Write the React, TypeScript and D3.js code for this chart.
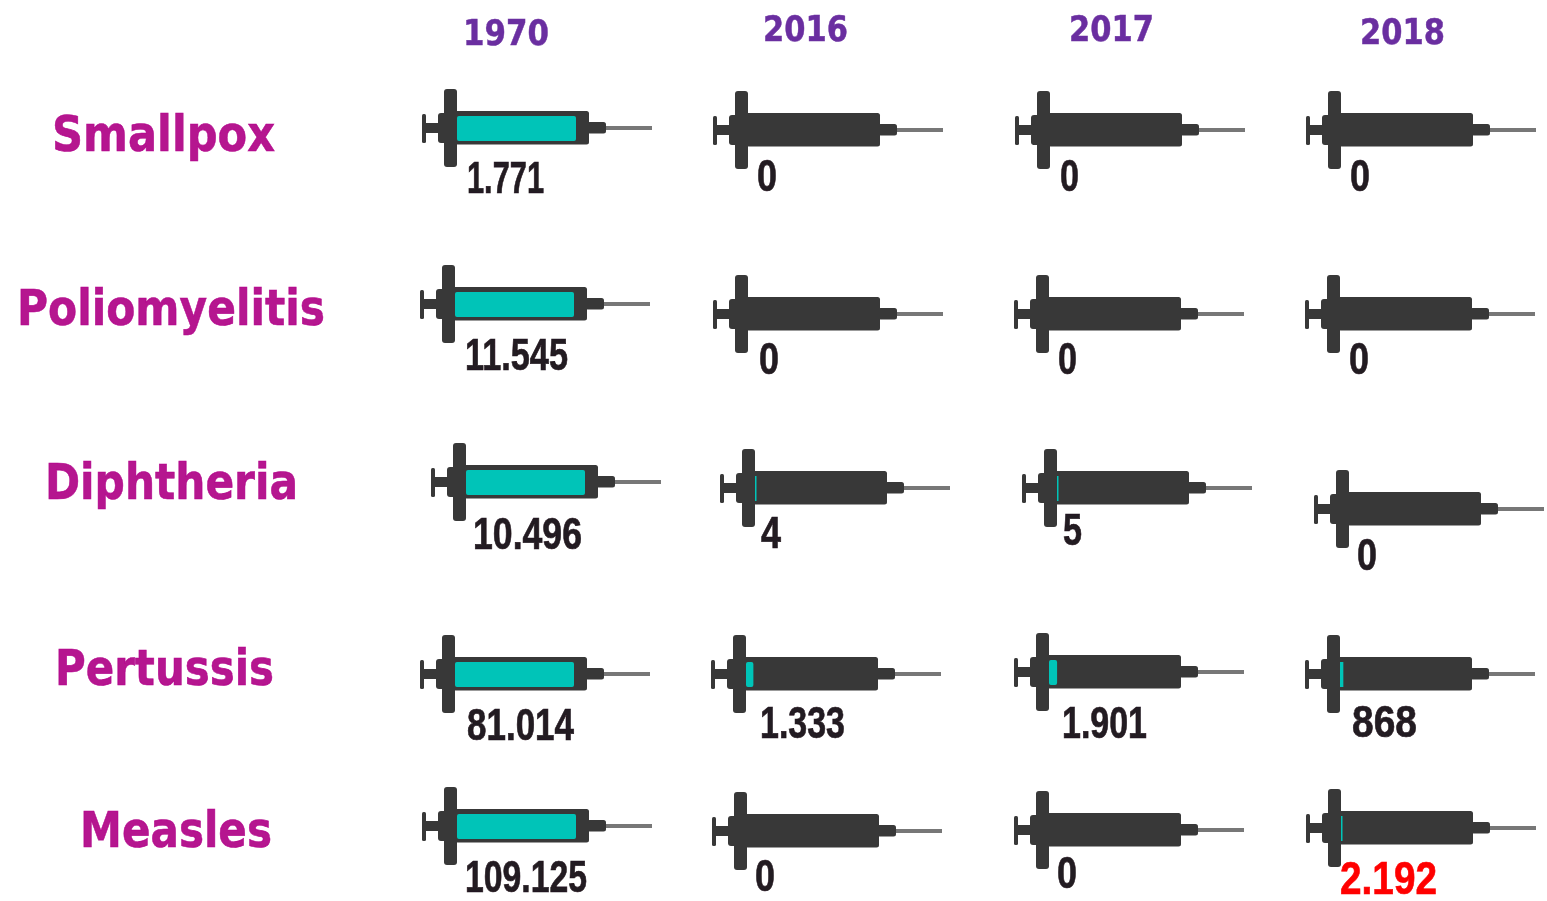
import React from "react";
import * as d3 from "d3";

const diseases = ["Smallpox", "Poliomyelitis", "Diphtheria", "Pertussis", "Measles"];
const years = ["1970", "2016", "2017", "2018"];
const values1970 = ["1.771", "11.545", "10.496", "81.014", "109.125"];
const values2016 = ["0", "0", "4", "1.333", "0"];
const values2017 = ["0", "0", "5", "1.901", "0"];
const values2018 = ["0", "0", "0", "868", "2.192"];
const fill1970 = [1, 1, 1, 1, 1];
const fill2016 = [0, 0, 0.012, 0.062, 0];
const fill2017 = [0, 0, 0.012, 0.068, 0];
const fill2018 = [0, 0, 0, 0.028, 0.012];
const valueCols = [values1970, values2016, values2017, values2018];
const fillCols = [fill1970, fill2016, fill2017, fill2018];

// Hand-placed layout of the infographic (syringe left edge / needle axis per cell)
const syringeX = [[422, 713, 1015, 1306], [420, 713, 1014, 1305], [431, 720, 1022, 1314], [420, 711, 1014, 1305], [422, 712, 1014, 1306]];
const syringeY = [[128, 130, 130, 130], [304, 314, 314, 314], [482, 488, 488, 509], [674, 674, 672, 674], [826, 831, 830, 828]];
const labelX = [[467, 757, 1060, 1350], [465, 759, 1058, 1349], [473, 761, 1063, 1357], [467, 760, 1062, 1352], [465, 755, 1057, 1340]];
const labelY = [[193, 191, 191, 191], [370, 374, 374, 374], [549, 548, 545, 570], [740, 738, 738, 737], [892, 891, 888, 894]];
const labelW = [[77, 20, 19, 20], [103, 20, 19, 20], [109, 20, 19, 20], [107, 85, 85, 65], [122, 20, 20, 97]];
const rowLabelX = [52, 17, 45, 55, 80];
const rowLabelY = [151, 325, 499, 685, 847];
const rowLabelW = [223, 308, 253, 219, 192];
const yearX = [463, 763, 1069, 1360];
const yearY = [45, 41, 41, 44];
const yearW = [86, 85, 85, 85];

const DARK = "#383838";
const TEAL = "#00c4b8";
const fillWidth = d3.scaleLinear().domain([0, 1]).range([0, 119]);
const FONT_HEAD = "'DejaVu Sans', sans-serif";
const FONT_NUM = "'Liberation Sans Narrow', 'Liberation Sans', sans-serif";

function Syringe({ x, y, fill }: { x: number; y: number; fill: number }) {
  const w = fill > 0 ? Math.max(fillWidth(fill), 1.5) : 0;
  return (
    <g transform={`translate(${x},${y})`}>
      <rect x={30} y={-2} width={200} height={4} fill="#777" />
      <rect x={0} y={-14} width={4} height={29} rx={1.5} fill={DARK} />
      <rect x={3} y={-5} width={16} height={10} fill={DARK} />
      <rect x={16} y={-15} width={10} height={30} rx={3} fill={DARK} />
      <rect x={22} y={-39} width={13} height={78} rx={3} fill={DARK} />
      <rect x={33} y={-17} width={134} height={33.5} rx={2.5} fill={DARK} />
      <rect x={165} y={-6} width={19} height={11.5} rx={2.5} fill={DARK} />
      {w > 0 && <rect x={35} y={-12} width={w} height={25} rx={w > 4 ? 2 : 0} fill={TEAL} />}
    </g>
  );
}

export default function App() {
  return (
    <svg width={1547} height={901} style={{ position: "absolute", left: 0, top: 0, background: "#fff" }}>
      <defs>
        <filter id="soft" x="-5%" y="-5%" width="110%" height="110%">
          <feGaussianBlur stdDeviation={0.5} />
        </filter>
      </defs>
      <g filter="url(#soft)">
        {years.map((yr, i) => (
          <text key={yr} x={yearX[i]} y={yearY[i]} textLength={yearW[i]} lengthAdjust="spacingAndGlyphs"
            fontFamily={FONT_HEAD} fontWeight="bold" fontSize={35} fill="#6a2fa0" stroke="#6a2fa0" strokeWidth={0.5}>{yr}</text>
        ))}
        {diseases.map((d, r) => (
          <text key={d} x={rowLabelX[r]} y={rowLabelY[r]} textLength={rowLabelW[r]} lengthAdjust="spacingAndGlyphs"
            fontFamily={FONT_HEAD} fontWeight="bold" fontSize={50} fill="#b5128f" stroke="#b5128f" strokeWidth={0.6}>{d}</text>
        ))}
        {diseases.map((d, r) =>
          years.map((yr, c) => {
            const isRed = r === 4 && c === 3;
            const col = isRed ? "#ff0000" : "#231a20";
            return (
              <g key={d + yr}>
                <Syringe x={syringeX[r][c]} y={syringeY[r][c]} fill={fillCols[c][r]} />
                <text x={labelX[r][c]} y={labelY[r][c]} textLength={labelW[r][c]} lengthAdjust="spacingAndGlyphs"
                  fontFamily={FONT_NUM} fontWeight="bold" fontSize={isRed ? 47 : 45}
                  fill={col} stroke={col} strokeWidth={0.7}>{valueCols[c][r]}</text>
              </g>
            );
          })
        )}
      </g>
    </svg>
  );
}
